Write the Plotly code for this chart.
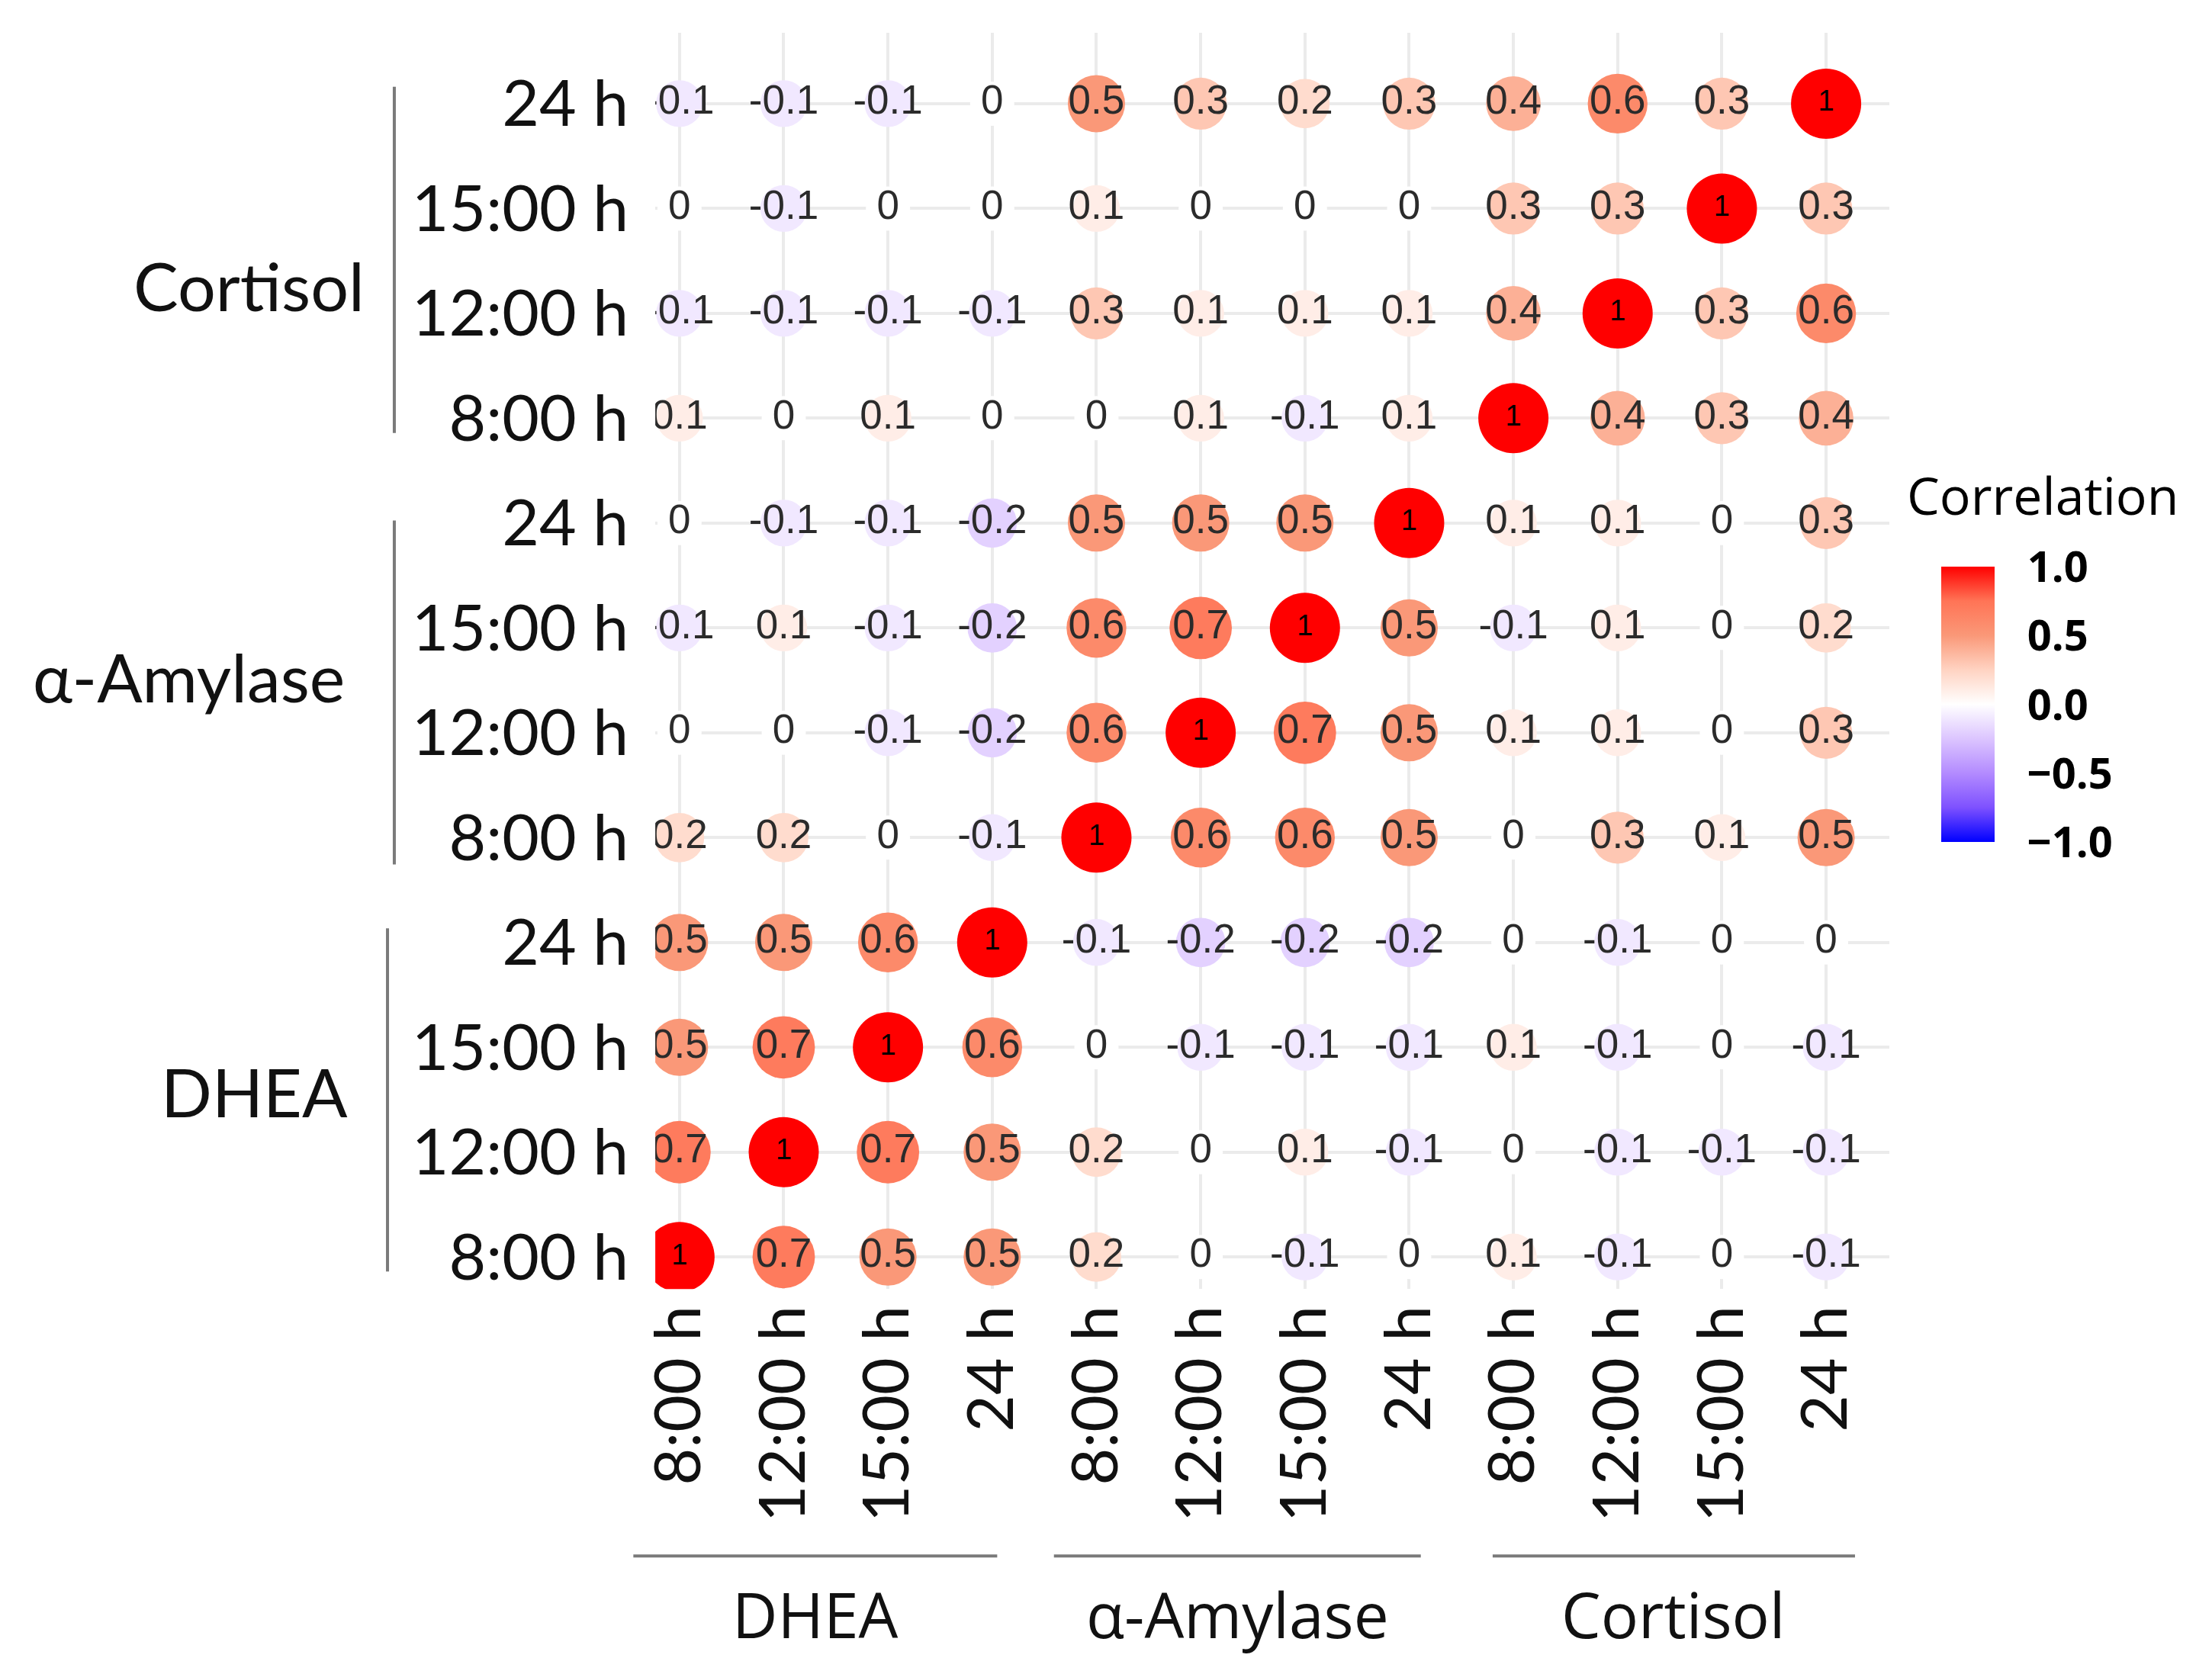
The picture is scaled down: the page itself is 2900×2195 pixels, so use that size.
import plotly.graph_objects as go

# correlation matrix, rows from top to bottom, columns:
# DHEA 8/12/15/24, alpha-Amylase 8/12/15/24, Cortisol 8/12/15/24
cortisol_24 = [-0.1, -0.1, -0.1, 0, 0.5, 0.3, 0.2, 0.3, 0.4, 0.6, 0.3, 1]
cortisol_15 = [0, -0.1, 0, 0, 0.1, 0, 0, 0, 0.3, 0.3, 1, 0.3]
cortisol_12 = [-0.1, -0.1, -0.1, -0.1, 0.3, 0.1, 0.1, 0.1, 0.4, 1, 0.3, 0.6]
cortisol_8 = [0.1, 0, 0.1, 0, 0, 0.1, -0.1, 0.1, 1, 0.4, 0.3, 0.4]
amylase_24 = [0, -0.1, -0.1, -0.2, 0.5, 0.5, 0.5, 1, 0.1, 0.1, 0, 0.3]
amylase_15 = [-0.1, 0.1, -0.1, -0.2, 0.6, 0.7, 1, 0.5, -0.1, 0.1, 0, 0.2]
amylase_12 = [0, 0, -0.1, -0.2, 0.6, 1, 0.7, 0.5, 0.1, 0.1, 0, 0.3]
amylase_8 = [0.2, 0.2, 0, -0.1, 1, 0.6, 0.6, 0.5, 0, 0.3, 0.1, 0.5]
dhea_24 = [0.5, 0.5, 0.6, 1, -0.1, -0.2, -0.2, -0.2, 0, -0.1, 0, 0]
dhea_15 = [0.5, 0.7, 1, 0.6, 0, -0.1, -0.1, -0.1, 0.1, -0.1, 0, -0.1]
dhea_12 = [0.7, 1, 0.7, 0.5, 0.2, 0, 0.1, -0.1, 0, -0.1, -0.1, -0.1]
dhea_8 = [1, 0.7, 0.5, 0.5, 0.2, 0, -0.1, 0, 0.1, -0.1, 0, -0.1]

times = ["8:00 h", "12:00 h", "15:00 h", "24 h"]
groups = ["DHEA", "α-Amylase", "Cortisol"]
tick_labels = times * 3

# bottom row first so that row index matches y position
rows = [dhea_8, dhea_12, dhea_15, dhea_24,
        amylase_8, amylase_12, amylase_15, amylase_24,
        cortisol_8, cortisol_12, cortisol_15, cortisol_24]

W, H = 2900, 2195
DX, DY = -26, -6  # global nudge of the layout


def px(x):
    return (x + DX) / W


def py(y):
    return 1 - (y + DY) / H


xs, ys, zs, sizes, labels, label_sizes, label_colors = [], [], [], [], [], [], []
for j, row in enumerate(rows):
    for i, v in enumerate(row):
        xs.append(i)
        ys.append(j)
        zs.append(v)
        sizes.append(58 + 34 * abs(v))
        labels.append(f"{v:g}")
        label_sizes.append(38 if v == 1 else 53)
        label_colors.append("#000000" if v == 1 else "#2b2b2b")

colorscale = [
    [0.0, "#0000FF"], [0.125, "#7E51FF"], [0.25, "#B38BFF"], [0.375, "#DCC5FF"],
    [0.5, "#FFFFFF"],
    [0.625, "#FFD3C2"], [0.75, "#FA9878"], [0.875, "#FF7456"], [1.0, "#FF0000"],
]

fig = go.Figure()
fig.add_trace(go.Scatter(
    x=xs, y=ys, mode="markers+text",
    text=labels,
    textposition="middle center",
    textfont=dict(family="Liberation Sans Narrow, Liberation Sans", size=label_sizes, color=label_colors),
    marker=dict(
        size=sizes, color=zs, colorscale=colorscale, cmin=-1, cmax=1,
        line=dict(width=0), opacity=1,
        colorbar=dict(
            thickness=70, len=382 / H, lenmode="fraction",
            x=px(2550), xanchor="left", y=py(924), yanchor="middle",
            outlinewidth=0,
            tickvals=[1, 0.5, 0, -0.5, -1],
            ticktext=["1.0", "0.5", "0.0", "\u22120.5", "\u22121.0"],
            ticks="outside", ticklen=32, tickcolor="rgba(0,0,0,0)",
            tickfont=dict(family="Open Sans", size=56, color="#000000", weight="bold"),
        ),
    ),
    hoverinfo="skip",
    showlegend=False,
))

x0, x1 = 860, 2491
y0, y1 = 41, 1692
col0, step = 892, 137.8
row_bottom = 1650

fig.update_xaxes(
    domain=[px(x0), px(x1)],
    range=[(x0 - col0) / step, (x1 - col0) / step],
    tickvals=list(range(12)), ticktext=tick_labels,
    tickangle=-90, ticks="", ticklabelstandoff=4,
    tickfont=dict(family="Lato", size=84, color="#111111"),
    showgrid=True, gridcolor="#ebebeb", gridwidth=4,
    zeroline=False, showline=False,
)
fig.update_yaxes(
    domain=[py(y1), py(y0)],
    range=[-(y1 - row_bottom) / step, (row_bottom - y0) / step],
    tickvals=list(range(12)), ticktext=tick_labels,
    ticks="", ticklabelstandoff=34,
    tickfont=dict(family="Lato", size=84, color="#111111"),
    showgrid=True, gridcolor="#ebebeb", gridwidth=4,
    zeroline=False, showline=False,
)

annotations = []
shapes = []

# left group labels and brackets
left_groups = [("Cortisol", 478, 373, 112, 567, 515),
               ("α-Amylase", 452, 887, 682, 1134, 515),
               ("DHEA", 456, 1432, 1218, 1669, 506)]
for name, xr, yc, ya, yb, xl in left_groups:
    annotations.append(dict(text=name, x=px(xr), y=py(yc), xref="paper", yref="paper",
                            xanchor="right", yanchor="middle", showarrow=False,
                            font=dict(family="Lato", size=88, color="#111111")))
    shapes.append(dict(type="line", xref="paper", yref="paper",
                       x0=px(xl), x1=px(xl), y0=py(ya), y1=py(yb),
                       line=dict(color="#7a7a7a", width=4)))

# bottom group labels and lines
bottom_groups = [(831, 1312), (1387, 1872), (1967, 2446)]
for name, (xa, xb) in zip(groups, bottom_groups):
    shapes.append(dict(type="line", xref="paper", yref="paper",
                       x0=px(xa), x1=px(xb), y0=py(2043), y1=py(2043),
                       line=dict(color="#7a7a7a", width=4)))
    annotations.append(dict(text=name, x=px((xa + xb) / 2), y=py(2119), xref="paper", yref="paper",
                            xanchor="center", yanchor="middle", showarrow=False,
                            font=dict(family="Open Sans", size=82, color="#111111")))

annotations.append(dict(text="Correlation", x=px(2694), y=py(648), xref="paper", yref="paper",
                        xanchor="center", yanchor="middle", showarrow=False,
                        font=dict(family="Open Sans", size=68, color="#000000")))

fig.update_layout(
    width=W, height=H,
    margin=dict(l=0, r=0, t=0, b=0),
    paper_bgcolor="white", plot_bgcolor="white",
    annotations=annotations, shapes=shapes,
)

fig.write_html("out.html")
